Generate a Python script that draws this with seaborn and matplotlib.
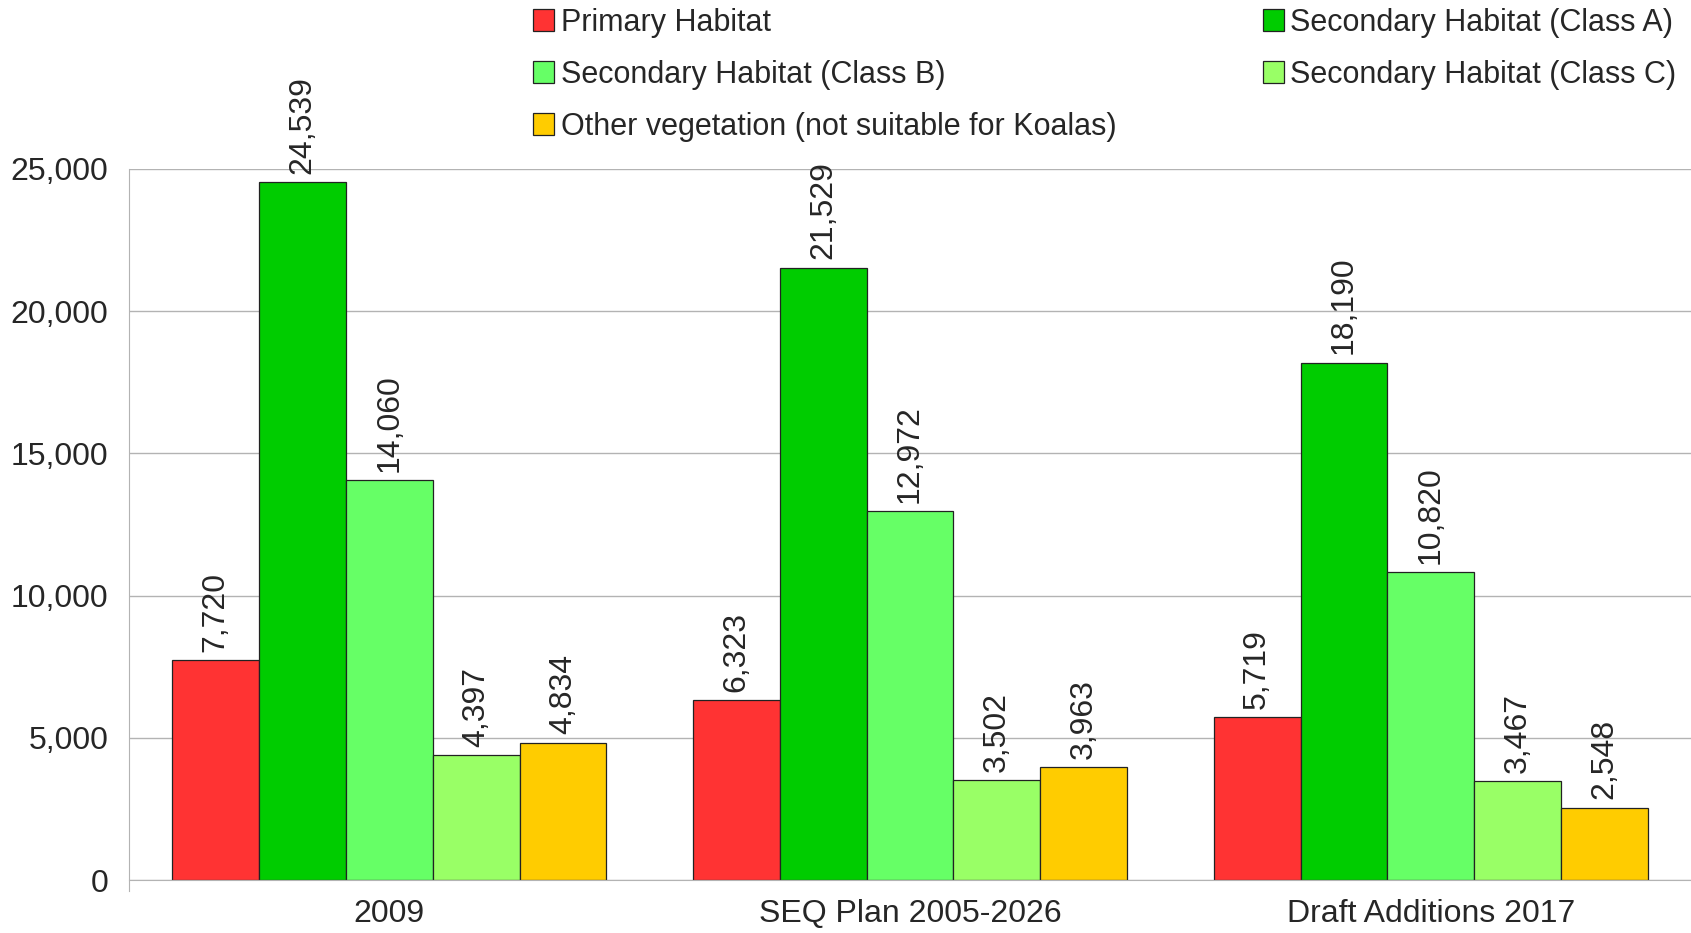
import numpy as np
import pandas as pd
import matplotlib
matplotlib.use("Agg")
import matplotlib.pyplot as plt
import seaborn as sns
from matplotlib.patches import Patch

# Data
categories = ["2009", "SEQ Plan 2005-2026", "Draft Additions 2017"]
series = [
    "Primary Habitat",
    "Secondary Habitat (Class A)",
    "Secondary Habitat (Class B)",
    "Secondary Habitat (Class C)",
    "Other vegetation (not suitable for Koalas)",
]
primary = [7720, 6323, 5719]
class_a = [24539, 21529, 18190]
class_b = [14060, 12972, 10820]
class_c = [4397, 3502, 3467]
other = [4834, 3963, 2548]
colors = ["#FF3333", "#00CC00", "#66FF66", "#99FF66", "#FFCC00"]
y_ticks = [0, 5000, 10000, 15000, 20000, 25000]

rows = []
for name, vals in zip(series, [primary, class_a, class_b, class_c, other]):
    for cat, v in zip(categories, vals):
        rows.append({"category": cat, "series": name, "value": v})
df = pd.DataFrame(rows)

sns.set_style("white")
plt.rcParams["font.family"] = ["Liberation Sans", "DejaVu Sans"]
fs = 23

fig = plt.figure(figsize=(16.91, 9.33), dpi=100)
ax = fig.add_axes([0.0763, 0.0568, 0.9237, 0.7621])

sns.barplot(data=df, x="category", y="value", hue="series", order=categories,
            hue_order=series, palette=colors, width=5 / 6, gap=0,
            edgecolor="#222222", linewidth=0.9, saturation=1, ax=ax, legend=False)

# value labels above each bar
for container in ax.containers:
    labels = [f"{int(round(b.get_height())):,}" for b in container]
    ax.bar_label(container, labels=labels, rotation=90, padding=6,
                 fontsize=fs, clip_on=False)

ax.set_xlim(-0.5, 2.5)
ax.set_ylim(0, 25000)
ax.set_yticks(y_ticks)
ax.set_yticklabels([f"{t:,}" for t in y_ticks], fontsize=fs)
ax.yaxis.grid(True, color="#b3b3b3", linewidth=1)
ax.set_axisbelow(True)
ax.set_xlabel("")
ax.set_ylabel("")
ax.tick_params(axis="x", which="major", length=0, labelsize=fs, pad=14)
ax.set_xticks([0.5, 1.5], minor=True)
ax.tick_params(axis="x", which="minor", length=10, color="#b3b3b3", width=1)
ax.tick_params(axis="y", length=10, color="#b3b3b3", width=1, pad=5)

for side in ["top", "right"]:
    ax.spines[side].set_visible(False)
ax.spines["left"].set_color("#b3b3b3")
ax.spines["bottom"].set_color("#b3b3b3")
ax.spines["left"].set_bounds(-380, 25000)
ax.spines["left"].set_clip_on(False)

# legend, filled row by row like the original
handles = [Patch(facecolor=c, edgecolor="#222222", linewidth=0.9) for c in colors]
order = [0, 2, 4, 1, 3]
fig.legend([handles[i] for i in order], [series[i] for i in order],
           ncol=2, loc="upper left", bbox_to_anchor=(0.308, 1.005),
           frameon=False, fontsize=22, handlelength=0.7, handleheight=0.7,
           handletextpad=0.2, labelspacing=0.72, columnspacing=4.8,
           borderaxespad=0)

fig.savefig("out.png", dpi=100)
